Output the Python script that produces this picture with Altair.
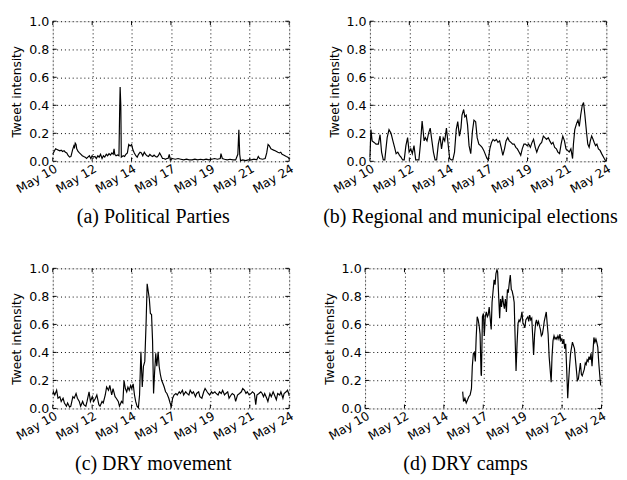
import altair as alt
import pandas as pd

XLABELS = ["May 10", "May 12", "May 14", "May 17", "May 19", "May 21", "May 24"]
XTICKS = [0, 14 / 6, 28 / 6, 7, 56 / 6, 70 / 6, 14]
YTICKS = [0.0, 0.2, 0.4, 0.6, 0.8, 1.0]

CAPTIONS = ["(a) Political Parties", "(b) Regional and municipal elections",
            "(c) DRY movement", "(d) DRY camps"]

# (a) Political Parties  (days since May 10, intensity)
A_DAY = [0.00, 0.08, 0.17, 0.25, 0.33, 0.42, 0.50, 0.58, 0.67, 0.75, 0.83, 0.92, 1.00, 1.08,
         1.17, 1.25, 1.29, 1.33, 1.38, 1.42, 1.50, 1.58, 1.67, 1.75, 1.83, 1.92, 2.00, 2.08,
         2.17, 2.25, 2.33, 2.42, 2.50, 2.58, 2.67, 2.75, 2.83, 2.92, 3.00, 3.08, 3.17, 3.25,
         3.33, 3.42, 3.50, 3.58, 3.63, 3.67, 3.75, 3.83, 3.92, 3.96, 3.99, 4.03, 4.06, 4.17,
         4.25, 4.33, 4.42, 4.50, 4.58, 4.67, 4.75, 4.83, 4.92, 5.00, 5.08, 5.17, 5.25, 5.33,
         5.42, 5.50, 5.58, 5.67, 5.75, 5.83, 5.92, 6.00, 6.08, 6.17, 6.25, 6.33, 6.42, 6.50,
         6.58, 6.67, 6.75, 6.83, 6.90, 6.96, 7.08, 7.25, 7.42, 7.58, 7.75, 7.92, 8.08, 8.25,
         8.42, 8.58, 8.75, 8.92, 9.08, 9.25, 9.42, 9.58, 9.75, 9.92, 9.96, 10.04, 10.17, 10.33,
         10.50, 10.67, 10.83, 10.96, 11.02, 11.07, 11.12, 11.25, 11.42, 11.58, 11.75, 11.92,
         12.08, 12.17, 12.25, 12.42, 12.58, 12.67, 12.75, 12.83, 12.92, 13.00, 13.08, 13.17,
         13.25, 13.33, 13.42, 13.50, 13.58, 13.67, 13.75, 13.83, 13.92, 14.00]
A_VAL = [0.05, 0.07, 0.09, 0.085, 0.08, 0.075, 0.08, 0.07, 0.075, 0.065, 0.06, 0.04, 0.03, 0.035,
         0.08, 0.11, 0.10, 0.13, 0.12, 0.09, 0.07, 0.06, 0.05, 0.04, 0.035, 0.03, 0.02, 0.03,
         0.04, 0.02, 0.04, 0.03, 0.035, 0.02, 0.04, 0.03, 0.05, 0.02, 0.04, 0.03, 0.05, 0.04,
         0.055, 0.045, 0.06, 0.05, 0.09, 0.05, 0.04, 0.045, 0.04, 0.35, 0.53, 0.40, 0.03, 0.04,
         0.035, 0.05, 0.06, 0.12, 0.11, 0.12, 0.08, 0.06, 0.04, 0.03, 0.05, 0.065, 0.06, 0.04,
         0.065, 0.05, 0.04, 0.035, 0.05, 0.04, 0.035, 0.045, 0.035, 0.03, 0.04, 0.06, 0.04, 0.02,
         0.02, 0.015, 0.02, 0.02, 0.05, 0.01, 0.02, 0.015, 0.02, 0.015, 0.01, 0.015, 0.01, 0.01,
         0.015, 0.01, 0.015, 0.01, 0.015, 0.01, 0.015, 0.02, 0.015, 0.02, 0.055, 0.02, 0.015, 0.01,
         0.015, 0.01, 0.01, 0.05, 0.226, 0.05, 0.005, 0.01, 0.005, 0.01, 0.01, 0.015,
         0.01, 0.035, 0.02, 0.015, 0.02, 0.06, 0.12, 0.11, 0.09, 0.085, 0.08, 0.075,
         0.07, 0.065, 0.06, 0.065, 0.05, 0.045, 0.04, 0.035, 0.03, 0.02]

# (b) Regional and municipal elections
B_DAY = [0.00, 0.06, 0.13, 0.25, 0.36, 0.50, 0.60, 0.69, 0.79, 0.88, 1.02, 1.13, 1.25, 1.36,
         1.46, 1.55, 1.65, 1.75, 1.84, 1.94, 2.03, 2.13, 2.23, 2.32, 2.42, 2.51, 2.61, 2.71,
         2.80, 2.90, 2.99, 3.09, 3.21, 3.28, 3.38, 3.47, 3.57, 3.67, 3.76, 3.86, 3.95, 4.05,
         4.15, 4.24, 4.34, 4.43, 4.53, 4.63, 4.72, 4.82, 4.91, 5.01, 5.11, 5.20, 5.30, 5.39,
         5.45, 5.55, 5.62, 5.70, 5.78, 5.87, 5.97, 6.07, 6.16, 6.26, 6.35, 6.45, 6.55, 6.64,
         6.74, 6.93,
         7.01, 7.10, 7.20, 7.29, 7.39, 7.49, 7.58, 7.68, 7.77, 7.87, 7.97, 8.06, 8.16, 8.25,
         8.35, 8.45, 8.54, 8.64, 8.73, 8.83, 8.93, 9.02, 9.12, 9.21, 9.31, 9.40, 9.50, 9.60,
         9.69, 9.79, 9.88, 9.98, 10.08, 10.17, 10.27, 10.36, 10.46, 10.56, 10.65, 10.75, 10.84,
         10.94, 11.04, 11.13, 11.23, 11.32, 11.42, 11.52, 11.61, 11.71, 11.80, 11.90, 12.00,
         12.05, 12.13, 12.24, 12.32, 12.40, 12.48, 12.57, 12.65, 12.73, 12.82, 12.90, 12.98,
         13.05, 13.13, 13.21, 13.28, 13.36, 13.44, 13.53, 13.63, 13.72, 13.82, 13.92, 14.00]
B_VAL = [0.03, 0.226, 0.146, 0.135, 0.123, 0.123, 0.19, 0.066, 0.01, 0.01, 0.169, 0.226, 0.2, 0.146,
         0.1, 0.055, 0.066, 0.043, 0.03, 0.01, 0.01, 0.112, 0.169, 0.066, 0.089, 0.055, 0.112, 0.01,
         0.01, 0.01, 0.123, 0.288, 0.146, 0.169, 0.146, 0.2, 0.237, 0.146, 0.066, 0.01, 0.01, 0.123,
         0.18, 0.089, 0.169, 0.146, 0.237, 0.123, 0.02, 0.01, 0.01, 0.066, 0.226, 0.283, 0.18, 0.237,
         0.329, 0.37, 0.317, 0.329, 0.26, 0.112, 0.055, 0.215, 0.294, 0.283, 0.169, 0.123, 0.112, 0.1,
         0.078, 0.02,
         0.01, 0.089, 0.135, 0.157, 0.146, 0.157, 0.135, 0.146, 0.1, 0.043, 0.089, 0.146, 0.169, 0.146,
         0.135, 0.123, 0.123, 0.1, 0.089, 0.066, 0.043, 0.089, 0.123, 0.123, 0.112, 0.123, 0.1, 0.135,
         0.157, 0.1, 0.066, 0.1, 0.123, 0.135, 0.18, 0.169, 0.157, 0.169, 0.146, 0.123, 0.135,
         0.1, 0.089, 0.066, 0.055, 0.123, 0.18, 0.146, 0.089, 0.078, 0.066, 0.089, 0.02,
         0.123, 0.226, 0.271, 0.294, 0.249, 0.329, 0.397, 0.42, 0.329, 0.215, 0.123, 0.1,
         0.146, 0.18, 0.157, 0.135, 0.112, 0.123, 0.089, 0.078, 0.055, 0.032, 0.01, 0.005]

# (c) DRY movement
C_DAY = [0.00, 0.04, 0.12, 0.23, 0.31, 0.42, 0.50, 0.61, 0.69, 0.81, 0.88, 1.00, 1.07, 1.19,
         1.27, 1.38, 1.46, 1.57, 1.65, 1.77, 1.84, 1.96, 2.03, 2.15, 2.23, 2.34, 2.42, 2.53,
         2.61, 2.73, 2.80, 2.92, 2.99, 3.11, 3.19, 3.30, 3.38, 3.49, 3.57, 3.69, 3.76, 3.88,
         3.95, 4.07, 4.15, 4.22, 4.30, 4.38, 4.45, 4.53, 4.61, 4.68, 4.76, 4.84, 4.91, 4.99,
         5.07, 5.14, 5.22, 5.30, 5.37, 5.45, 5.53, 5.59, 5.64, 5.72, 5.78, 5.85, 5.91, 5.97,
         6.03, 6.10, 6.16, 6.24, 6.30, 6.37, 6.45, 6.53, 6.60, 6.68, 6.76, 6.87, 6.95, 7.02,
         7.10, 7.18, 7.29, 7.37, 7.49, 7.56, 7.68, 7.75, 7.87, 7.95, 8.06, 8.14, 8.25, 8.33,
         8.45, 8.52, 8.64, 8.71, 8.83, 8.94, 9.02, 9.14, 9.21, 9.29, 9.40, 9.48, 9.60, 9.67,
         9.79, 9.87, 9.98, 10.06, 10.17, 10.25, 10.36, 10.44, 10.56, 10.63, 10.75, 10.83, 10.94,
         11.06, 11.17, 11.25, 11.36, 11.44, 11.52, 11.63, 11.75, 11.82, 11.94, 12.02, 12.09,
         12.21, 12.32, 12.40, 12.48, 12.55, 12.67, 12.74, 12.86, 12.94, 13.05, 13.13, 13.24,
         13.32, 13.44, 13.51, 13.63, 13.70, 13.82, 13.90, 13.97, 14.00]
C_VAL = [0.10, 0.119, 0.096, 0.13, 0.073, 0.084, 0.05, 0.073, 0.039, 0.016, 0.039, 0.009, 0.016, 0.084,
         0.073, 0.107, 0.073, 0.05, 0.016, 0.05, 0.027, 0.016, 0.05, 0.119, 0.05, 0.084, 0.05, 0.073,
         0.096, 0.027, 0.016, 0.05, 0.039, 0.096, 0.153, 0.13, 0.164, 0.096, 0.142, 0.084, 0.073, 0.05,
         0.016, 0.05, 0.039, 0.199, 0.142, 0.119, 0.153, 0.13, 0.164, 0.142, 0.176, 0.096, 0.05, 0.016,
         0.005, 0.096, 0.404, 0.153, 0.301, 0.336, 0.621, 0.89, 0.849, 0.781, 0.678, 0.671, 0.484, 0.107,
         0.256, 0.393, 0.301, 0.404, 0.301, 0.244, 0.199, 0.176, 0.153, 0.119, 0.107, 0.073, 0.039, 0.016,
         0.073, 0.096, 0.107, 0.096, 0.119, 0.107, 0.13, 0.096, 0.119, 0.107, 0.096, 0.13, 0.107, 0.119,
         0.084, 0.107, 0.119, 0.084, 0.073, 0.119, 0.142, 0.119, 0.107, 0.096, 0.119, 0.107, 0.119, 0.107,
         0.096, 0.119, 0.107, 0.13, 0.096, 0.107, 0.119, 0.073, 0.096, 0.107, 0.096, 0.05, 0.096,
         0.107, 0.119, 0.142, 0.13, 0.107, 0.119, 0.096, 0.107, 0.119, 0.107, 0.027, 0.096,
         0.107, 0.119, 0.107, 0.084, 0.107, 0.073, 0.05, 0.107, 0.084, 0.119, 0.096, 0.062,
         0.107, 0.096, 0.119, 0.073, 0.107, 0.119, 0.13, 0.107, 0.09]

# (d) DRY camps
D_DAY = [5.78, 5.83, 5.91, 5.99, 6.07, 6.14, 6.22, 6.30, 6.35, 6.41, 6.47, 6.53, 6.58, 6.64,
         6.70, 6.76, 6.81, 6.87, 6.89, 6.95, 7.01, 7.06, 7.12, 7.18, 7.24, 7.29, 7.35, 7.41,
         7.47, 7.52, 7.58, 7.64, 7.70, 7.75, 7.81, 7.85, 7.91, 7.97, 8.02, 8.08, 8.14, 8.20,
         8.25, 8.31, 8.37, 8.43, 8.48, 8.54, 8.60, 8.66, 8.71, 8.77, 8.83, 8.89, 8.94, 9.00,
         9.06, 9.12, 9.17, 9.23, 9.29, 9.35, 9.40, 9.46, 9.52, 9.58, 9.64, 9.69, 9.75, 9.81,
         9.87, 9.92, 9.98, 10.04, 10.10, 10.15, 10.21, 10.27, 10.33, 10.38, 10.44, 10.50, 10.56,
         10.61, 10.67, 10.73, 10.79, 10.84, 10.90, 10.96, 11.02, 11.07, 11.13, 11.19, 11.25,
         11.31, 11.36, 11.42, 11.48, 11.54, 11.59, 11.65, 11.71, 11.77, 11.82, 11.88, 11.94,
         12.00, 12.05, 12.11, 12.17, 12.23, 12.28, 12.34, 12.40, 12.46, 12.52, 12.57, 12.63,
         12.69, 12.75, 12.81, 12.86, 12.92, 12.98, 13.04, 13.09, 13.15, 13.21, 13.26, 13.32,
         13.38, 13.44, 13.49, 13.55, 13.61, 13.67, 13.72, 13.78, 13.84, 13.90, 13.95]
D_VAL = [0.12, 0.05, 0.073, 0.039, 0.062, 0.084, 0.096, 0.142, 0.30, 0.39, 0.40, 0.336, 0.507, 0.655,
         0.632, 0.587, 0.53, 0.244, 0.233, 0.655, 0.678, 0.518, 0.655, 0.689, 0.655, 0.667, 0.724, 0.644,
         0.564, 0.758, 0.838, 0.918, 0.884, 0.963, 0.99, 0.975, 0.804, 0.644, 0.781, 0.724, 0.804, 0.747,
         0.712, 0.781, 0.689, 0.849, 0.826, 0.895, 0.952, 0.849, 0.838, 0.804, 0.758, 0.484, 0.267, 0.461,
         0.609, 0.632, 0.621, 0.644, 0.689, 0.609, 0.598, 0.575, 0.632, 0.644, 0.655, 0.621, 0.667, 0.632,
         0.644, 0.53, 0.381, 0.53, 0.609, 0.632, 0.598, 0.621, 0.587, 0.564, 0.518, 0.53, 0.575,
         0.621, 0.655, 0.689, 0.598, 0.53, 0.37, 0.279, 0.187, 0.37, 0.484, 0.518, 0.495,
         0.507, 0.495, 0.518, 0.495, 0.53, 0.484, 0.495, 0.461, 0.495, 0.427, 0.461, 0.279,
         0.073, 0.187, 0.301, 0.393, 0.438, 0.473, 0.45, 0.427, 0.347, 0.267, 0.199, 0.21,
         0.267, 0.324, 0.244, 0.233, 0.256, 0.279, 0.324, 0.313, 0.347, 0.336, 0.37, 0.347,
         0.393, 0.301, 0.393, 0.507, 0.473, 0.495, 0.473, 0.438, 0.324, 0.233, 0.164]

W, H = 243, 144
SANS = "DejaVu Sans"
SERIF = "Liberation Serif"

# label expression mapping tick values to their date labels
_parts = []
for i in range(len(XTICKS) - 1):
    mid = (XTICKS[i] + XTICKS[i + 1]) / 2
    _parts.append(f"datum.value < {mid:.3f} ? '{XLABELS[i]}' : ")
LABEL_EXPR = "".join(_parts) + f"'{XLABELS[-1]}'"


def panel(days, vals, caption):
    df = pd.DataFrame({"day": days, "v": vals})
    xscale = alt.Scale(domain=[0, 14], nice=False, zero=False)
    yscale = alt.Scale(domain=[0, 1], nice=False)
    line = alt.Chart(df).mark_line(color="black", strokeWidth=1.2).encode(
        x=alt.X("day:Q", scale=xscale, title=None,
                axis=alt.Axis(values=XTICKS, labelExpr=LABEL_EXPR, labelAngle=-30,
                              labelAlign="right", labelBaseline="top", labelPadding=1,
                              labelOverlap=False, labelBound=False, labelFlush=False,
                              labelFont=SANS, labelFontSize=12.5, labelColor="black",
                              ticks=False, domain=False, grid=True, gridColor="black",
                              gridDash=[1, 3], gridWidth=1, gridOpacity=1)),
        y=alt.Y("v:Q", scale=yscale, title="Tweet intensity",
                axis=alt.Axis(values=YTICKS, format=".1f", labelFont=SANS, labelFontSize=13,
                              labelColor="black", labelPadding=4, ticks=False, domain=False,
                              grid=True, gridColor="black", gridDash=[1, 3], gridWidth=1,
                              gridOpacity=1, titleFont=SANS, titleFontSize=12.5,
                              titleFontWeight="normal", titleColor="black", titlePadding=5)),
    )
    xt = pd.DataFrame({"t": XTICKS})
    yt = pd.DataFrame({"t": YTICKS})
    tb = alt.Chart(xt).mark_rule(color="black", strokeWidth=1).encode(
        x=alt.X("t:Q", scale=xscale, axis=None), y=alt.value(H), y2=alt.value(H - 4))
    tt = alt.Chart(xt).mark_rule(color="black", strokeWidth=1).encode(
        x=alt.X("t:Q", scale=xscale, axis=None), y=alt.value(0), y2=alt.value(4))
    tl = alt.Chart(yt).mark_rule(color="black", strokeWidth=1).encode(
        y=alt.Y("t:Q", scale=yscale, axis=None), x=alt.value(0), x2=alt.value(4))
    tr = alt.Chart(yt).mark_rule(color="black", strokeWidth=1).encode(
        y=alt.Y("t:Q", scale=yscale, axis=None), x=alt.value(W), x2=alt.value(W - 4))
    return alt.layer(line, tb, tt, tl, tr).resolve_axis(
        x="independent", y="independent"
    ).properties(
        width=W, height=H,
        title=alt.TitleParams(text=caption, orient="bottom", anchor="middle", frame="bounds",
                              font=SERIF, fontSize=20.5, fontWeight="normal", color="black",
                              baseline="top", offset=13),
    )


pa = panel(A_DAY, A_VAL, CAPTIONS[0])
pb = panel(B_DAY, B_VAL, CAPTIONS[1])
pc = panel(C_DAY, C_VAL, CAPTIONS[2])
pd_ = panel(D_DAY, D_VAL, CAPTIONS[3])

chart = alt.vconcat(
    alt.hconcat(pa, pb, spacing=27),
    alt.hconcat(pc, pd_, spacing=27),
    spacing=34,
).properties(
    padding={"left": 2, "top": 0, "right": 0, "bottom": 0}
).configure_view(stroke="black", strokeWidth=1).configure(background="white")

chart.save("out.html", embed_options={"renderer": "svg", "actions": False})
